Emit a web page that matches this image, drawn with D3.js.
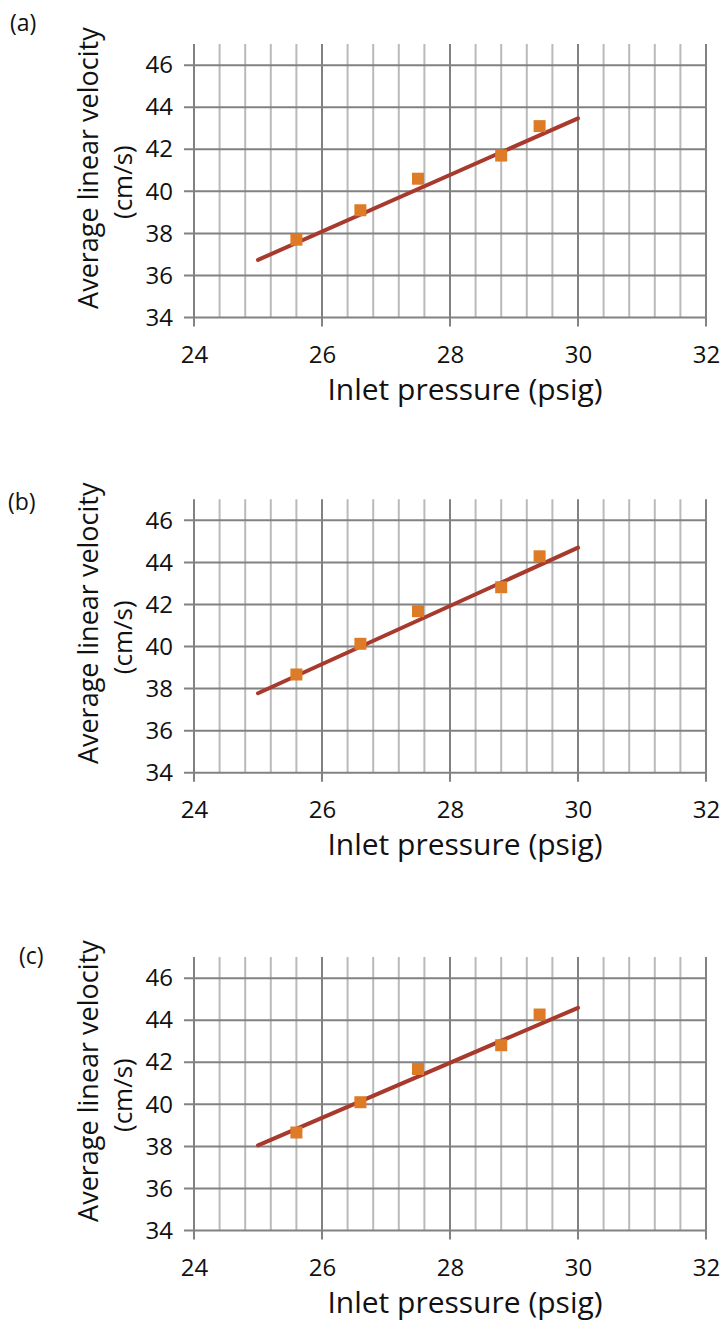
<!DOCTYPE html>
<html>
<head>
<meta charset="utf-8">
<script src="https://cdn.jsdelivr.net/npm/d3@7"></script>
<style>
  html, body { margin: 0; padding: 0; background: #fff; }
  svg { display: block; }
  text { font-family: "Open Sans", "Noto Sans", sans-serif; fill: #111; }
</style>
</head>
<body>
<svg id="chart" width="726" height="1320"></svg>
<script>
// ---- data ----
const panelLabels = ["(a)", "(b)", "(c)"];
const xTickValues = [24, 26, 28, 30, 32];
const yTickValues = [34, 36, 38, 40, 42, 44, 46];
const xTitle = "Inlet pressure (psig)";
const yTitleLine1 = "Average linear velocity";
const yTitleLine2 = "(cm/s)";

const pressure = [25.6, 26.6, 27.5, 28.8, 29.4];
const velocityA = [37.7, 39.1, 40.6, 41.7, 43.1];
const velocityB = [38.67, 40.13, 41.68, 42.82, 44.29];
const velocityC = [38.66, 40.10, 41.68, 42.81, 44.27];

const trendX = [25, 30];
const trendA = [36.74, 43.47];
const trendB = [37.78, 44.70];
const trendC = [38.05, 44.59];

const panels = [
  { label: panelLabels[0], values: velocityA, trend: trendA, bottom: 317.5, labelPos: [10, 31], titleBase: 82 },
  { label: panelLabels[1], values: velocityB, trend: trendB, bottom: 772.7, labelPos: [8, 510], titleBase: 82 },
  { label: panelLabels[2], values: velocityC, trend: trendC, bottom: 1230.5, labelPos: [19, 964], titleBase: 82 }
];

// ---- layout ----
const svg = d3.select("#chart");
const left = 194, right = 706;
const unitY = 21.03;
const yMin = 34, yMax = 47;
const gridMajor = "#828282", gridMinor = "#bababa";
const markerColor = "#DE7B27", lineColor = "#A8392D";

const x = d3.scaleLinear().domain([24, 32]).range([left, right]);
const xMinor = d3.range(24, 32.0001, 0.4).map(v => +v.toFixed(1));

panels.forEach(p => {
  const top = p.bottom - (yMax - yMin) * unitY;
  const y = d3.scaleLinear().domain([yMin, yMax]).range([p.bottom, top]);
  const g = svg.append("g");

  // minor vertical grid
  g.append("g").selectAll("line")
    .data(xMinor.filter(v => !xTickValues.includes(v)))
    .join("line")
    .attr("x1", d => x(d)).attr("x2", d => x(d))
    .attr("y1", y(yMax)).attr("y2", y(yMin))
    .attr("stroke", gridMinor).attr("stroke-width", 2);

  // horizontal grid (extends left as tick)
  g.append("g").selectAll("line")
    .data(yTickValues)
    .join("line")
    .attr("x1", left - 10).attr("x2", right)
    .attr("y1", d => y(d)).attr("y2", d => y(d))
    .attr("stroke", gridMajor).attr("stroke-width", 2);

  // major vertical grid (extends below as tick)
  g.append("g").selectAll("line")
    .data(xTickValues)
    .join("line")
    .attr("x1", d => x(d)).attr("x2", d => x(d))
    .attr("y1", y(yMax)).attr("y2", y(yMin) + 9)
    .attr("stroke", gridMajor).attr("stroke-width", 2);

  // x axis labels
  const xa = g.append("g")
    .attr("transform", `translate(0,${p.bottom})`)
    .call(d3.axisBottom(x).tickValues(xTickValues).tickSize(0).tickPadding(28).tickFormat(d3.format("d")));
  xa.select(".domain").remove();
  xa.selectAll("text").attr("font-size", 24).attr("font-family", "Open Sans").attr("fill", "#111");

  // y axis labels
  const ya = g.append("g")
    .attr("transform", `translate(${left},0)`)
    .call(d3.axisLeft(y).tickValues(yTickValues).tickSize(0).tickPadding(21).tickFormat(d3.format("d")));
  ya.select(".domain").remove();
  ya.selectAll("text").attr("font-size", 24).attr("font-family", "Open Sans").attr("fill", "#111");

  // trend line
  g.append("line")
    .attr("x1", x(trendX[0])).attr("y1", y(p.trend[0]))
    .attr("x2", x(trendX[1])).attr("y2", y(p.trend[1]))
    .attr("stroke", lineColor).attr("stroke-width", 4).attr("stroke-linecap", "round");

  // markers
  const s = 12;
  g.append("g").selectAll("rect")
    .data(pressure.map((px, i) => [px, p.values[i]]))
    .join("rect")
    .attr("x", d => x(d[0]) - s / 2).attr("y", d => y(d[1]) - s / 2)
    .attr("width", s).attr("height", s)
    .attr("fill", markerColor);

  // titles
  g.append("text")
    .attr("x", 465)
    .attr("y", p.bottom + p.titleBase)
    .attr("text-anchor", "middle")
    .attr("font-size", 30)
    .text(xTitle);

  g.append("text")
    .attr("transform", `translate(${98},${top + 124}) rotate(-90)`)
    .attr("text-anchor", "middle")
    .attr("font-size", 27)
    .text(yTitleLine1);
  g.append("text")
    .attr("transform", `translate(${132},${top + 138}) rotate(-90)`)
    .attr("text-anchor", "middle")
    .attr("font-size", 26)
    .text(yTitleLine2);

  g.append("text")
    .attr("x", p.labelPos[0]).attr("y", p.labelPos[1])
    .attr("font-size", 23)
    .text(p.label);
});
</script>
</body>
</html>
